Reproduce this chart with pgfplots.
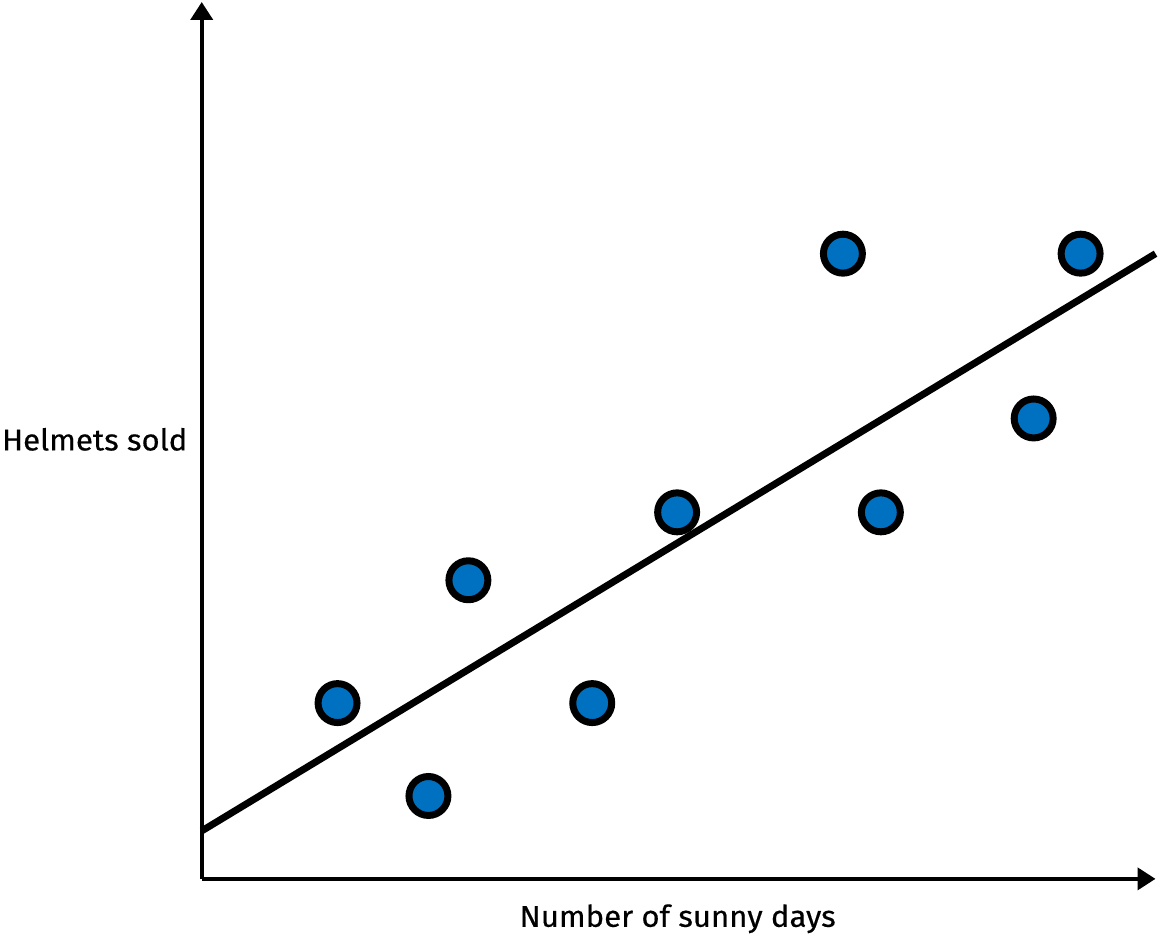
\documentclass[border=0pt]{standalone}
\usepackage{pgfplots}
\pgfplotsset{compat=1.18}
\usetikzlibrary{arrows.meta}
\usepackage{fontspec}
\setmainfont[FakeStretch=1.04,FakeBold=0.4]{Fira Sans}
\definecolor{ptblue}{RGB}{0,112,192}
\begin{document}
\begin{tikzpicture}
\begin{axis}[
  scale only axis,
  width=477.5pt, height=439pt,
  xmin=0, xmax=955, ymin=0, ymax=878,
  axis lines=left,
  axis line style={line width=2pt, -{Triangle[length=9pt,width=11pt]}},
  xtick=\empty, ytick=\empty,
  clip=false,
]
\path (axis cs:-202,-64) rectangle (axis cs:957,880);
\addplot[line width=3.5pt, no marks] coordinates {(0,48) (955,626)};
\addplot[only marks, mark=*, mark size=9.75pt,
  mark options={draw=black, fill=ptblue, line width=3.5pt}] coordinates {
(136,176) (227,83) (267,299) (391,176) (476,367)
(642,626) (680,367) (833,461) (880,626)
};
\node[anchor=base east, font=\fontsize{15pt}{18pt}\selectfont, inner sep=0pt] at (axis cs:-14,429) {Helmets sold};
\node[anchor=base, font=\fontsize{15pt}{18pt}\selectfont, inner sep=0pt] at (axis cs:476.5,-48) {Number of sunny days};
\end{axis}
\end{tikzpicture}
\end{document}
